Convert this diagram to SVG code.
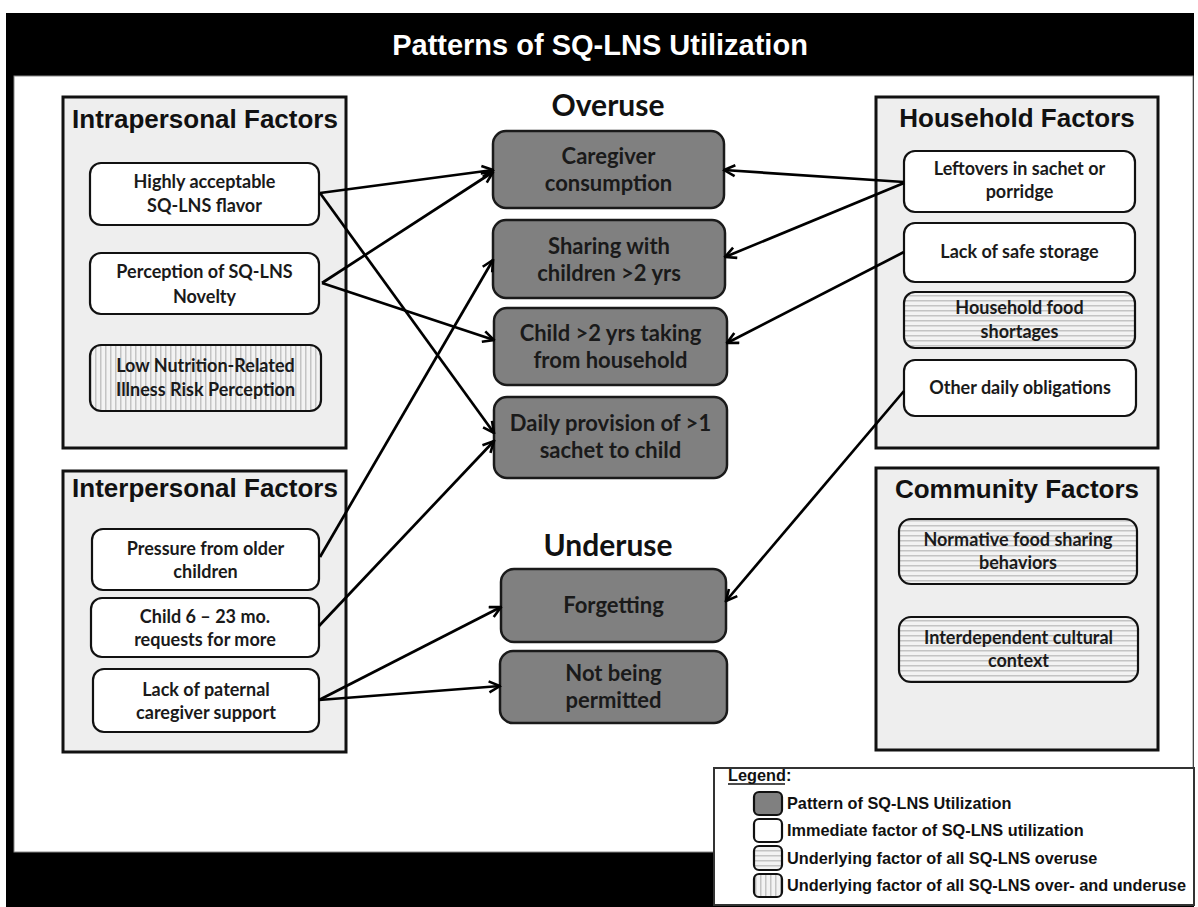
<svg xmlns="http://www.w3.org/2000/svg" width="1198" height="907" viewBox="0 0 1198 907">
<defs>
<style>
.panel{fill:#eeeeee;stroke:#111;stroke-width:3}
.ptitle{font-family:"Liberation Sans",Arial,sans-serif;font-weight:bold;font-size:26px;fill:#111;text-anchor:middle}
.fbox{fill:#fff;stroke:#111;stroke-width:2.2}
.fbox.hz{fill:url(#hs)}
.fbox.vt{fill:url(#vs)}
.pbox{fill:#808080;stroke:#1a1a1a;stroke-width:2.5}
.ftxt{font-family:Lato,"Open Sans",sans-serif;font-weight:bold;font-size:18px;fill:#1a1a1a;text-anchor:middle}
.ctxt{font-family:Lato,"Open Sans",sans-serif;font-weight:bold;font-size:22px;fill:#1a1a1a;text-anchor:middle}
.head{font-family:Lato,"Open Sans",sans-serif;font-weight:bold;font-size:30px;fill:#111;text-anchor:middle}
.ltxt{font-family:"Liberation Sans",Arial,sans-serif;font-weight:bold;font-size:16.3px;fill:#111}
.conn path{fill:none;stroke:#000;stroke-width:2.7;marker-end:url(#arr)}
</style>
<marker id="arr" viewBox="0 0 14 14" refX="12.5" refY="7" markerWidth="14" markerHeight="14" markerUnits="userSpaceOnUse" orient="auto">
<path d="M1.5,1.5 L12.5,7 L1.5,12.5" fill="none" stroke="#000" stroke-width="2.6" stroke-linejoin="miter"/>
</marker>
<pattern id="hs" width="6" height="5" patternUnits="userSpaceOnUse">
<rect width="6" height="5" fill="#f3f3f3"/><rect width="6" height="1.5" fill="#c4c4c4"/>
</pattern>
<pattern id="vs" width="5" height="6" patternUnits="userSpaceOnUse">
<rect width="5" height="6" fill="#f3f3f3"/><rect width="1.5" height="6" fill="#c4c4c4"/>
</pattern>
</defs>

<g id="frame">
<rect x="0" y="0" width="1198" height="907" fill="#fff"/>
<rect x="6" y="13" width="1188" height="894" fill="#000"/>
<rect x="14" y="76" width="1179" height="776" fill="#fff" stroke="#888" stroke-width="1"/>
<text x="600" y="55" font-family="'Liberation Sans',Arial,sans-serif" font-weight="bold" font-size="29" fill="#fff" text-anchor="middle">Patterns of SQ-LNS Utilization</text>
</g>

<g id="panel-intrapersonal">
<rect class="panel" x="63" y="97" width="283" height="351"/>
<text class="ptitle" x="205" y="128">Intrapersonal Factors</text>
</g>
<g id="panel-interpersonal">
<rect class="panel" x="63" y="471" width="283" height="281"/>
<text class="ptitle" x="205" y="497">Interpersonal Factors</text>
</g>
<g id="panel-household">
<rect class="panel" x="876" y="97" width="282" height="351"/>
<text class="ptitle" x="1017" y="127">Household Factors</text>
</g>
<g id="panel-community">
<rect class="panel" x="876" y="468" width="282" height="282"/>
<text class="ptitle" x="1017" y="498">Community Factors</text>
</g>

<g id="n-flavor">
<rect class="fbox" x="90" y="163" width="229" height="62" rx="11"/>
<text class="ftxt" x="204.5" y="188">Highly acceptable</text>
<text class="ftxt" x="204.5" y="212">SQ-LNS flavor</text>
</g>
<g id="n-novelty">
<rect class="fbox" x="90" y="253" width="229" height="61" rx="11"/>
<text class="ftxt" x="204.5" y="278">Perception of SQ-LNS</text>
<text class="ftxt" x="204.5" y="303">Novelty</text>
</g>
<g id="n-risk">
<rect class="fbox vt" x="90" y="345" width="231" height="66" rx="11"/>
<text class="ftxt" x="205.5" y="372">Low Nutrition-Related</text>
<text class="ftxt" x="205.5" y="396">Illness Risk Perception</text>
</g>

<g id="n-pressure">
<rect class="fbox" x="92" y="529" width="227" height="61" rx="11"/>
<text class="ftxt" x="205.5" y="555">Pressure from older</text>
<text class="ftxt" x="205.5" y="578">children</text>
</g>
<g id="n-requests">
<rect class="fbox" x="91" y="598" width="228" height="59" rx="11"/>
<text class="ftxt" x="205" y="623">Child 6 – 23 mo.</text>
<text class="ftxt" x="205" y="646">requests for more</text>
</g>
<g id="n-paternal">
<rect class="fbox" x="93" y="669" width="226" height="63" rx="11"/>
<text class="ftxt" x="206" y="696">Lack of paternal</text>
<text class="ftxt" x="206" y="719">caregiver support</text>
</g>

<g id="n-leftovers">
<rect class="fbox" x="904" y="151" width="231" height="61" rx="11"/>
<text class="ftxt" x="1019.5" y="175">Leftovers in sachet or</text>
<text class="ftxt" x="1019.5" y="198">porridge</text>
</g>
<g id="n-storage">
<rect class="fbox" x="904" y="223" width="231" height="59" rx="11"/>
<text class="ftxt" x="1019.5" y="258">Lack of safe storage</text>
</g>
<g id="n-shortages">
<rect class="fbox hz" x="904" y="292" width="231" height="56" rx="11"/>
<text class="ftxt" x="1019.5" y="314">Household food</text>
<text class="ftxt" x="1019.5" y="338">shortages</text>
</g>
<g id="n-obligations">
<rect class="fbox" x="904" y="360" width="232" height="56" rx="11"/>
<text class="ftxt" x="1020" y="394">Other daily obligations</text>
</g>

<g id="n-normative">
<rect class="fbox hz" x="899" y="519" width="238" height="65" rx="12"/>
<text class="ftxt" x="1018" y="546">Normative food sharing</text>
<text class="ftxt" x="1018" y="569">behaviors</text>
</g>
<g id="n-cultural">
<rect class="fbox hz" x="899" y="617" width="239" height="65" rx="12"/>
<text class="ftxt" x="1018.5" y="644">Interdependent cultural</text>
<text class="ftxt" x="1018.5" y="667">context</text>
</g>

<g id="overuse-head"><text class="head" x="608" y="116">Overuse</text></g>
<g id="n-caregiver">
<rect class="pbox" x="493" y="131" width="231" height="77" rx="13"/>
<text class="ctxt" x="608.5" y="164">Caregiver</text>
<text class="ctxt" x="608.5" y="191">consumption</text>
</g>
<g id="n-sharing">
<rect class="pbox" x="493" y="220" width="232" height="78" rx="13"/>
<text class="ctxt" x="609" y="254">Sharing with</text>
<text class="ctxt" x="609" y="281">children &gt;2 yrs</text>
</g>
<g id="n-taking">
<rect class="pbox" x="494" y="308" width="233" height="77" rx="13"/>
<text class="ctxt" x="610.5" y="341">Child &gt;2 yrs taking</text>
<text class="ctxt" x="610.5" y="368">from household</text>
</g>
<g id="n-provision">
<rect class="pbox" x="494" y="397" width="233" height="81" rx="13"/>
<text class="ctxt" x="610.5" y="431">Daily provision of &gt;1</text>
<text class="ctxt" x="610.5" y="458">sachet to child</text>
</g>
<g id="underuse-head"><text class="head" x="608" y="556">Underuse</text></g>
<g id="n-forgetting">
<rect class="pbox" x="501" y="569" width="225" height="73" rx="13"/>
<text class="ctxt" x="613.5" y="613">Forgetting</text>
</g>
<g id="n-permitted">
<rect class="pbox" x="500" y="651" width="227" height="72" rx="13"/>
<text class="ctxt" x="613.5" y="681">Not being</text>
<text class="ctxt" x="613.5" y="708">permitted</text>
</g>

<g id="connectors" class="conn">
<path d="M320,193 L493,170"/>
<path d="M320,193 L494,433"/>
<path d="M322,283 L493,172"/>
<path d="M322,283 L494,340"/>
<path d="M320,557 L493,260"/>
<path d="M319,626 L494,441"/>
<path d="M319,700 L501,607"/>
<path d="M319,700 L500,686"/>
<path d="M904,182 L724,170"/>
<path d="M904,183 L725,257"/>
<path d="M904,252 L727,343"/>
<path d="M904,391 L726,601"/>
</g>

<g id="legend">
<rect x="714" y="768" width="480" height="137" fill="#fff" stroke="#333" stroke-width="2"/>
<text class="ltxt" x="728" y="781">Legend:</text>
<line x1="728" y1="784" x2="785" y2="784" stroke="#111" stroke-width="1.5"/>
<rect x="754" y="792" width="28" height="23" rx="5" fill="#808080" stroke="#111" stroke-width="2.2"/>
<rect x="754" y="819" width="28" height="23" rx="5" fill="#fff" stroke="#111" stroke-width="2.2"/>
<rect x="754" y="846" width="28" height="24" rx="5" fill="url(#hs)" stroke="#111" stroke-width="2.2"/>
<rect x="754" y="874" width="28" height="23" rx="5" fill="url(#vs)" stroke="#111" stroke-width="2.2"/>
<text class="ltxt" x="787" y="809">Pattern of SQ-LNS Utilization</text>
<text class="ltxt" x="787" y="836">Immediate factor of SQ-LNS utilization</text>
<text class="ltxt" x="787" y="864">Underlying factor of all SQ-LNS overuse</text>
<text class="ltxt" x="787" y="891">Underlying factor of all SQ-LNS over- and underuse</text>
</g>
</svg>
